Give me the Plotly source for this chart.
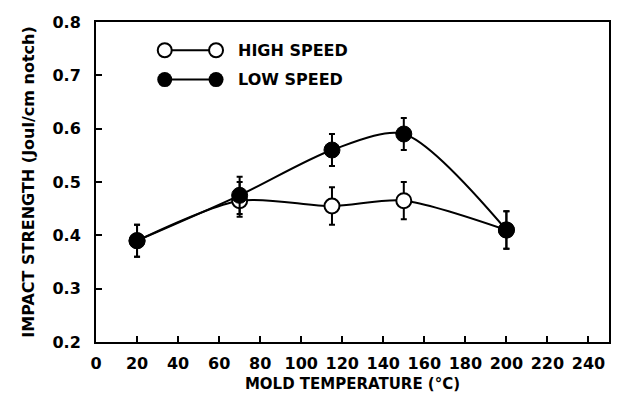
import plotly.graph_objects as go

temps = [20, 70, 115, 150, 200]
high_speed = [0.39, 0.465, 0.455, 0.465, 0.41]
high_err_plus = [0.03, 0.035, 0.035, 0.035, 0.035]
high_err_minus = [0.03, 0.03, 0.035, 0.035, 0.035]
low_speed = [0.39, 0.475, 0.56, 0.59, 0.41]
low_err_plus = [0.03, 0.035, 0.03, 0.03, 0.035]
low_err_minus = [0.03, 0.035, 0.03, 0.03, 0.035]

x_ticks = list(range(0, 260, 20))
y_ticks = [0.2, 0.3, 0.4, 0.5, 0.6, 0.7, 0.8]

legend_x = [33.5, 58.5]
legend_y_high = [0.747, 0.747]
legend_y_low = [0.692, 0.692]
legend_labels = ["HIGH SPEED", "LOW SPEED"]

FONT = "DejaVu Sans"

fig = go.Figure()

fig.add_trace(go.Scatter(
    x=temps, y=high_speed, mode="lines+markers",
    line=dict(color="black", width=2, shape="spline", smoothing=0.8),
    marker=dict(size=15, color="white", line=dict(color="black", width=2)),
    error_y=dict(type="data", array=high_err_plus, arrayminus=high_err_minus,
                 color="black", thickness=2, width=3),
    showlegend=False,
))
fig.add_trace(go.Scatter(
    x=temps, y=low_speed, mode="lines+markers",
    line=dict(color="black", width=2, shape="spline", smoothing=0.8),
    marker=dict(size=16, color="black", line=dict(color="black", width=1)),
    error_y=dict(type="data", array=low_err_plus, arrayminus=low_err_minus,
                 color="black", thickness=2, width=3),
    showlegend=False,
))

# in-plot legend
fig.add_trace(go.Scatter(
    x=legend_x, y=legend_y_high, mode="lines+markers",
    line=dict(color="black", width=2),
    marker=dict(size=14, color="white", line=dict(color="black", width=2)),
    showlegend=False, hoverinfo="skip",
))
fig.add_trace(go.Scatter(
    x=legend_x, y=legend_y_low, mode="lines+markers",
    line=dict(color="black", width=2),
    marker=dict(size=15, color="black"),
    showlegend=False, hoverinfo="skip",
))
for lbl, yy in zip(legend_labels, [legend_y_high[0], legend_y_low[0]]):
    fig.add_annotation(x=68, y=yy, text=lbl, showarrow=False, xanchor="left",
                       yanchor="middle",
                       font=dict(family=FONT, size=16, color="black", weight="bold"))

fig.update_layout(
    width=619, height=398,
    margin=dict(l=96, r=8, t=22, b=56),
    paper_bgcolor="white", plot_bgcolor="white",
    font=dict(family=FONT, color="black"),
    xaxis=dict(
        range=[0, 250], tickvals=x_ticks, ticks="inside", ticklen=6, tickwidth=1.5,
        tickcolor="black", showline=True, linecolor="black", linewidth=2,
        mirror=True, showgrid=False, zeroline=False, ticklabelstandoff=6,
        tickfont=dict(family=FONT, size=16, color="black", weight="bold"),
        title=dict(text="MOLD TEMPERATURE (°C)", standoff=6,
                   font=dict(family=FONT, size=15, color="black", weight="bold")),
    ),
    yaxis=dict(
        range=[0.2, 0.8], tickvals=y_ticks, tickformat=".1f", ticks="inside",
        ticklen=6, tickwidth=1.5, tickcolor="black", showline=True,
        linecolor="black", linewidth=2, mirror=True, showgrid=False, zeroline=False,
        ticklabelstandoff=10,
        tickfont=dict(family=FONT, size=16, color="black", weight="bold"),
        title=dict(text="IMPACT STRENGTH (Joul/cm notch)", standoff=14,
                   font=dict(family=FONT, size=16, color="black", weight="bold")),
    ),
)

fig.write_html("out.html")
